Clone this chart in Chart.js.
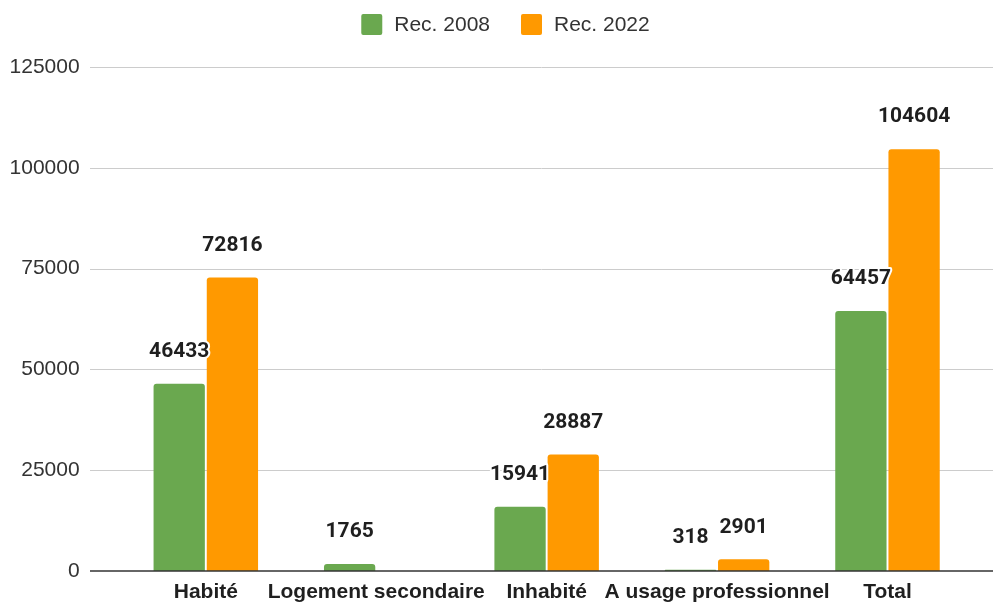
<!DOCTYPE html>
<html>
<head>
<meta charset="utf-8">
<script src="https://cdn.jsdelivr.net/npm/chart.js@4/dist/chart.umd.min.js"></script>
<style>
  html, body { margin: 0; padding: 0; background: #fff; }
  #wrap { width: 993px; height: 604px; }
</style>
</head>
<body>
<div id="wrap"><canvas id="c" width="993" height="604"></canvas></div>
<script>
// Housing counts by occupancy type, census 2008 vs 2022
const categories = ['Habité', 'Logement secondaire', 'Inhabité', 'A usage professionnel', 'Total'];
const rec2008 = [46433, 1765, 15941, 318, 64457];
const rec2022 = [72816, null, 28887, 2901, 104604];
const seriesNames = ['Rec. 2008', 'Rec. 2022'];
const seriesColors = ['#6aa84f', '#ff9900'];
const yTicks = [0, 25000, 50000, 75000, 100000, 125000];

const SANS = '"Liberation Sans", Arial, sans-serif';
const GRID_LEFT = 90;

// Horizontal grid lines spanning the full width, under the bars
const fullGrid = {
  id: 'fullGrid',
  beforeDatasetsDraw(chart) {
    const { ctx, scales: { y } } = chart;
    ctx.save();
    ctx.strokeStyle = '#cccccc';
    ctx.lineWidth = 1;
    y.ticks.forEach(t => {
      if (t.value === 0) return;
      const py = Math.round(y.getPixelForValue(t.value)) + 0.5;
      ctx.beginPath();
      ctx.moveTo(GRID_LEFT, py);
      ctx.lineTo(chart.width, py);
      ctx.stroke();
    });
    ctx.restore();
  },
  afterDatasetsDraw(chart) {
    const { ctx, scales: { y } } = chart;
    const py = y.getPixelForValue(0);
    ctx.save();
    ctx.strokeStyle = '#333333';
    ctx.lineWidth = 1.5;
    ctx.beginPath();
    ctx.moveTo(GRID_LEFT, py);
    ctx.lineTo(chart.width, py);
    ctx.stroke();
    ctx.restore();
  }
};

// Value labels above each bar, with a white halo
const valueLabels = {
  id: 'valueLabels',
  afterDatasetsDraw(chart) {
    const { ctx } = chart;
    ctx.save();
    ctx.font = 'bold 21px Roboto';
    ctx.textAlign = 'center';
    ctx.textBaseline = 'middle';
    ctx.lineJoin = 'round';
    chart.data.datasets.forEach((ds, di) => {
      const meta = chart.getDatasetMeta(di);
      meta.data.forEach((bar, i) => {
        const v = ds.data[i];
        if (v === null || v === undefined) return;
        const ty = bar.y - 32;
        ctx.strokeStyle = '#ffffff';
        ctx.lineWidth = 4;
        ctx.strokeText(String(v), bar.x, ty);
        ctx.fillStyle = '#1f1f1f';
        ctx.fillText(String(v), bar.x, ty);
      });
    });
    ctx.restore();
  }
};

// Legend row at the top
const topLegend = {
  id: 'topLegend',
  afterDraw(chart) {
    const { ctx } = chart;
    ctx.save();
    ctx.font = '21px ' + SANS;
    ctx.textBaseline = 'middle';
    ctx.textAlign = 'left';
    const box = 21, textGap = 12, itemGap = 31;
    const widths = chart.data.datasets.map(ds => box + textGap + ctx.measureText(ds.label).width);
    const total = widths.reduce((a, b) => a + b, 0) + itemGap * (widths.length - 1);
    let x = 505.5 - total / 2;
    const cy = 24.5;
    chart.data.datasets.forEach((ds, i) => {
      ctx.fillStyle = ds.backgroundColor;
      ctx.beginPath();
      ctx.roundRect(x, cy - box / 2, box, box, 2);
      ctx.fill();
      ctx.fillStyle = '#333333';
      ctx.fillText(ds.label, x + box + textGap, cy + 1);
      x += widths[i] + itemGap;
    });
    ctx.restore();
  }
};

new Chart(document.getElementById('c'), {
  type: 'bar',
  data: {
    labels: categories,
    datasets: [
      { label: seriesNames[0], data: rec2008, backgroundColor: seriesColors[0] },
      { label: seriesNames[1], data: rec2022, backgroundColor: seriesColors[1] }
    ]
  },
  options: {
    responsive: false,
    devicePixelRatio: 1,
    animation: false,
    layout: { padding: { top: 67, left: 0, right: 20.3, bottom: 0 } },
    datasets: {
      bar: {
        categoryPercentage: 0.6244,
        barPercentage: 0.964,
        borderRadius: { topLeft: 3, topRight: 3 },
        borderSkipped: 'start'
      }
    },
    plugins: {
      legend: { display: false },
      tooltip: { enabled: false }
    },
    scales: {
      x: {
        grid: { display: false, drawTicks: false },
        border: { display: false },
        ticks: {
          color: '#1f1f1f',
          font: { family: SANS, weight: 'bold', size: 21 },
          padding: 9,
          maxRotation: 0,
          autoSkip: false
        },
        afterFit(scale) { scale.height = 33; }
      },
      y: {
        min: 0,
        max: 125000,
        grid: { display: false, drawTicks: false },
        border: { display: false },
        afterBuildTicks(scale) { scale.ticks = yTicks.map(v => ({ value: v })); },
        ticks: {
          color: '#333333',
          font: { family: SANS, size: 21 },
          padding: 41,
          callback: v => String(v)
        },
        afterFit(scale) {
          scale.width = 120.6;
          scale.paddingTop = 0;
          scale.paddingBottom = 0;
        }
      }
    }
  },
  plugins: [fullGrid, valueLabels, topLegend]
});
</script>
</body>
</html>
